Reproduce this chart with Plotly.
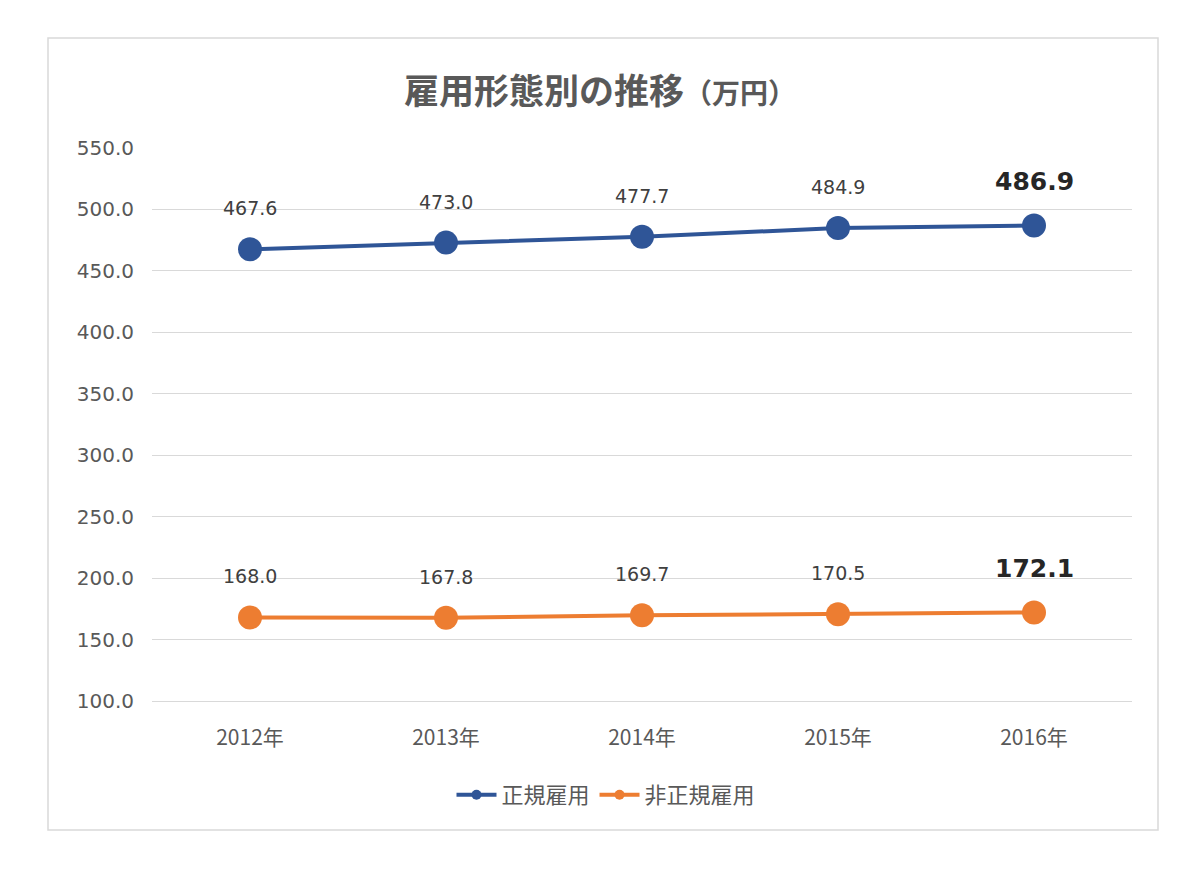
import plotly.graph_objects as go

years = ['2012年', '2013年', '2014年', '2015年', '2016年']
regular = [467.6, 473.0, 477.7, 484.9, 486.9]
non_regular = [168.0, 167.8, 169.7, 170.5, 172.1]
series_names = ['正規雇用', '非正規雇用']
y_ticks = [100, 150, 200, 250, 300, 350, 400, 450, 500, 550]

blue = '#2f5597'
orange = '#ed7d31'
jp_font = 'Noto Sans CJK JP'
num_font = 'DejaVu Sans'

fig = go.Figure()

for name, vals, color in [(series_names[0], regular, blue),
                          (series_names[1], non_regular, orange)]:
    fig.add_trace(go.Scatter(x=years,
                             y=vals,
                             name=name,
                             mode='lines+markers',
                             showlegend=False,
                             line=dict(color=color, width=4),
                             marker=dict(color=color, size=24)))

    # legend entry with a small dot, like the original
    fig.add_trace(go.Scatter(x=[None], y=[None],
                             name=name,
                             mode='lines+markers',
                             line=dict(color=color, width=4),
                             marker=dict(color=color, size=10)))

    # data labels sit well above the markers, the last one is bold and bigger
    for i, (x, v) in enumerate(zip(years, vals)):
        last = i == len(vals) - 1
        fig.add_annotation(x=x, y=v,
                           text='<b>{:.1f}</b>'.format(v) if last else '{:.1f}'.format(v),
                           showarrow=False,
                           yshift=44 if last else 41,
                           font=dict(family=num_font,
                                     size=25 if last else 19,
                                     color='#262626' if last else '#404040'))

# the page body has an 8px margin, so the margins are shifted by that
fig.update_layout(
    width=1200,
    height=878,
    margin=dict(l=144, r=76, t=140, b=185),
    paper_bgcolor='white',
    plot_bgcolor='white',
    font=dict(family=jp_font, color='#595959'),
    title=dict(text='<b>雇用形態別の推移</b><b><span style="font-size:28px">（万円）</span></b>',
               x=(600 - 8) / 1200, xanchor='center',
               y=1 - 84 / 878, yanchor='middle',
               font=dict(size=35, color='#595959', family=jp_font)),
    legend=dict(orientation='h',
                x=(606 - 152) / 980, xanchor='center',
                y=-0.17, yanchor='middle',
                font=dict(size=22, color='#595959'),
                itemwidth=40),
    showlegend=True,
)

# categories sit half a step in from each edge
fig.update_xaxes(range=[-0.5, len(years) - 0.5],
                 showgrid=False,
                 showline=True, linecolor='#d9d9d9', linewidth=1,
                 ticks='',
                 tickfont=dict(size=21, color='#595959', family=jp_font),
                 ticklabelstandoff=18)
fig.update_yaxes(range=[100, 550],
                 tickvals=y_ticks,
                 tickformat='.1f',
                 showgrid=True, gridcolor='#d9d9d9', gridwidth=1,
                 zeroline=False,
                 ticks='',
                 tickfont=dict(size=20, color='#595959', family=num_font),
                 ticklabelstandoff=17)

# thin light frame round the whole chart
fig.add_shape(type='rect', xref='paper', yref='paper',
              x0=(48 - 152) / 980, x1=(1158 - 152) / 980,
              y0=(701 - 830) / 553, y1=(701 - 38) / 553,
              line=dict(color='#d9d9d9', width=1.5))

fig.write_html('out.html')
